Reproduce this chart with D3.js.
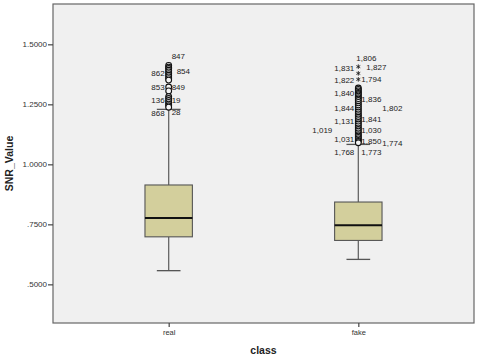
<!DOCTYPE html>
<html><head><meta charset="utf-8">
<script src="https://cdn.jsdelivr.net/npm/d3@7"></script>
<style>body{margin:0;background:#fff}svg{display:block;font-family:"Liberation Sans",Arial,sans-serif}</style>
</head><body><svg id="c" width="480" height="359"></svg>
<script>
const categories = ["real", "fake"];
const boxStats = [
  {cat: "real", low: 0.557, q1: 0.698, med: 0.776, q3: 0.914, high: 1.229},
  {cat: "fake", low: 0.604, q1: 0.683, med: 0.746, q3: 0.843, high: 1.083}
];
const yTickValues = [0.5, 0.75, 1.0, 1.25, 1.5];
const yTickLabels = [".5000", ".7500", "1.0000", "1.2500", "1.5000"];
const realOutliers = [1.412, 1.405, 1.399, 1.392, 1.385, 1.378, 1.371, 1.364, 1.357, 1.351,
  1.322, 1.306, 1.282, 1.274, 1.266, 1.258, 1.251, 1.244, 1.238];
const fakeOutliers = [1.318, 1.312, 1.306, 1.300, 1.295, 1.290, 1.284, 1.278, 1.272, 1.266,
  1.258, 1.250, 1.242, 1.234, 1.226, 1.218, 1.210, 1.203, 1.196, 1.189, 1.182, 1.175, 1.168,
  1.160, 1.152, 1.145, 1.138, 1.131, 1.124, 1.118, 1.112, 1.106, 1.100, 1.095, 1.090];
const fakeExtremes = [1.407, 1.379, 1.354];
const realLabels = [
  {t: "847", v: 1.451, slot: "r1"}, {t: "862", v: 1.379, slot: "l1"}, {t: "854", v: 1.386, slot: "r2"},
  {t: "853", v: 1.321, slot: "l1"}, {t: "849", v: 1.321, slot: "r1"}, {t: "136", v: 1.267, slot: "l1"},
  {t: "19", v: 1.268, slot: "r1"}, {t: "868", v: 1.215, slot: "l1"}, {t: "28", v: 1.219, slot: "r1"}
];
const fakeLabels = [
  {t: "1,806", v: 1.444, slot: "t"}, {t: "1,831", v: 1.400, slot: "l1"}, {t: "1,827", v: 1.403, slot: "r2"},
  {t: "1,822", v: 1.351, slot: "l1"}, {t: "1,794", v: 1.354, slot: "r1"}, {t: "1,840", v: 1.296, slot: "l1"},
  {t: "1,836", v: 1.271, slot: "r1"}, {t: "1,844", v: 1.233, slot: "l1"}, {t: "1,802", v: 1.233, slot: "r3"},
  {t: "1,131", v: 1.180, slot: "l1"}, {t: "1,841", v: 1.189, slot: "r1"}, {t: "1,019", v: 1.143, slot: "l2"},
  {t: "1,030", v: 1.143, slot: "r1"}, {t: "1,031", v: 1.104, slot: "l1"}, {t: "1,850", v: 1.098, slot: "r1"},
  {t: "1,774", v: 1.0875, slot: "r3"}, {t: "1,768", v: 1.0525, slot: "l1"}, {t: "1,773", v: 1.0525, slot: "r1"}
];

const svg = d3.select("#c");
const L = 53, R = 474, T = 4, B = 323;
const y = d3.scaleLinear().domain([0.339, 1.668]).range([B, T]);
const x = d3.scalePoint().domain(categories).range([L, R]).padding(0.61);
const step = x.step();
const boxW = step * 0.25, capW = boxW * 0.5;

svg.append("rect").attr("x", L).attr("y", T).attr("width", R - L).attr("height", B - T)
  .attr("fill", "#f0f0f0").attr("stroke", "#666").attr("stroke-width", 1.2);

// y axis
const yAxis = d3.axisLeft(y).tickValues(yTickValues).tickSize(5).tickPadding(1)
  .tickFormat((d, i) => yTickLabels[i]);
const ya = svg.append("g").attr("transform", `translate(${L},0)`).call(yAxis);
ya.select(".domain").remove();
ya.selectAll("line").attr("stroke", "#444").attr("stroke-width", 1.2);
ya.selectAll("text").attr("font-size", 8).attr("fill", "#333").attr("font-family", "Liberation Sans, Arial, sans-serif");

// x axis
const xAxis = d3.axisBottom(x).tickSize(4).tickPadding(3);
const xa = svg.append("g").attr("transform", `translate(0,${B})`).call(xAxis);
xa.select(".domain").remove();
xa.selectAll("line").attr("stroke", "#444").attr("stroke-width", 1.2);
xa.selectAll("text").attr("font-size", 7.5).attr("fill", "#333").attr("font-family", "Liberation Sans, Arial, sans-serif");

// axis titles
svg.append("text").attr("transform", `translate(13,${(T + B) / 2}) rotate(-90)`)
  .attr("text-anchor", "middle").attr("font-size", 10.5).attr("font-weight", "bold").attr("fill", "#222").text("SNR_Value");
svg.append("text").attr("x", (L + R) / 2).attr("y", 354)
  .attr("text-anchor", "middle").attr("font-size", 10.5).attr("font-weight", "bold").attr("fill", "#222").text("class");

// boxes
const g = svg.append("g");
boxStats.forEach(s => {
  const cx = x(s.cat);
  g.append("line").attr("x1", cx).attr("x2", cx).attr("y1", y(s.high)).attr("y2", y(s.q3)).attr("stroke", "#666").attr("stroke-width", 1.3);
  g.append("line").attr("x1", cx).attr("x2", cx).attr("y1", y(s.q1)).attr("y2", y(s.low)).attr("stroke", "#666").attr("stroke-width", 1.3);
  [s.high, s.low].forEach(v => g.append("line").attr("x1", cx - capW / 2).attr("x2", cx + capW / 2)
    .attr("y1", y(v)).attr("y2", y(v)).attr("stroke", "#555").attr("stroke-width", 1.3));
  g.append("rect").attr("x", cx - boxW / 2).attr("y", y(s.q3)).attr("width", boxW).attr("height", y(s.q1) - y(s.q3))
    .attr("fill", "#d3cf9c").attr("stroke", "#555").attr("stroke-width", 1.1);
  g.append("line").attr("x1", cx - boxW / 2).attr("x2", cx + boxW / 2).attr("y1", y(s.med)).attr("y2", y(s.med))
    .attr("stroke", "#111").attr("stroke-width", 2);
});

// labels
const slotDx = d3.scaleOrdinal().domain(["l2", "l1", "t", "r1", "r2", "r3"]).range([-26, -4, -2, 3, 8, 24]);
function drawLabels(cat, labels) {
  const cx = x(cat);
  svg.append("g").selectAll("text").data(labels).join("text")
    .attr("x", d => cx + slotDx(d.slot)).attr("y", d => y(d.v))
    .attr("dy", "0.35em").attr("text-anchor", d => d.slot[0] === "l" ? "end" : "start")
    .attr("font-size", 8).attr("fill", "#222").text(d => d.t);
}
drawLabels("real", realLabels);
drawLabels("fake", fakeLabels);

// outliers
function drawOutliers(cat, vals) {
  const cx = x(cat);
  svg.append("g").selectAll("circle").data(vals).join("circle")
    .attr("cx", cx).attr("cy", d => y(d)).attr("r", 2.9)
    .attr("fill", "#f4f4f4").attr("stroke", "#111").attr("stroke-width", 1.1);
}
drawOutliers("real", realOutliers);
drawOutliers("fake", fakeOutliers);
svg.append("g").selectAll("path").data(fakeExtremes).join("path")
  .attr("transform", d => `translate(${x("fake")},${y(d)})`)
  .attr("d", d3.symbol().type(d3.symbolAsterisk).size(14))
  .attr("stroke", "#222").attr("stroke-width", 0.9).attr("fill", "none");
</script></body></html>
